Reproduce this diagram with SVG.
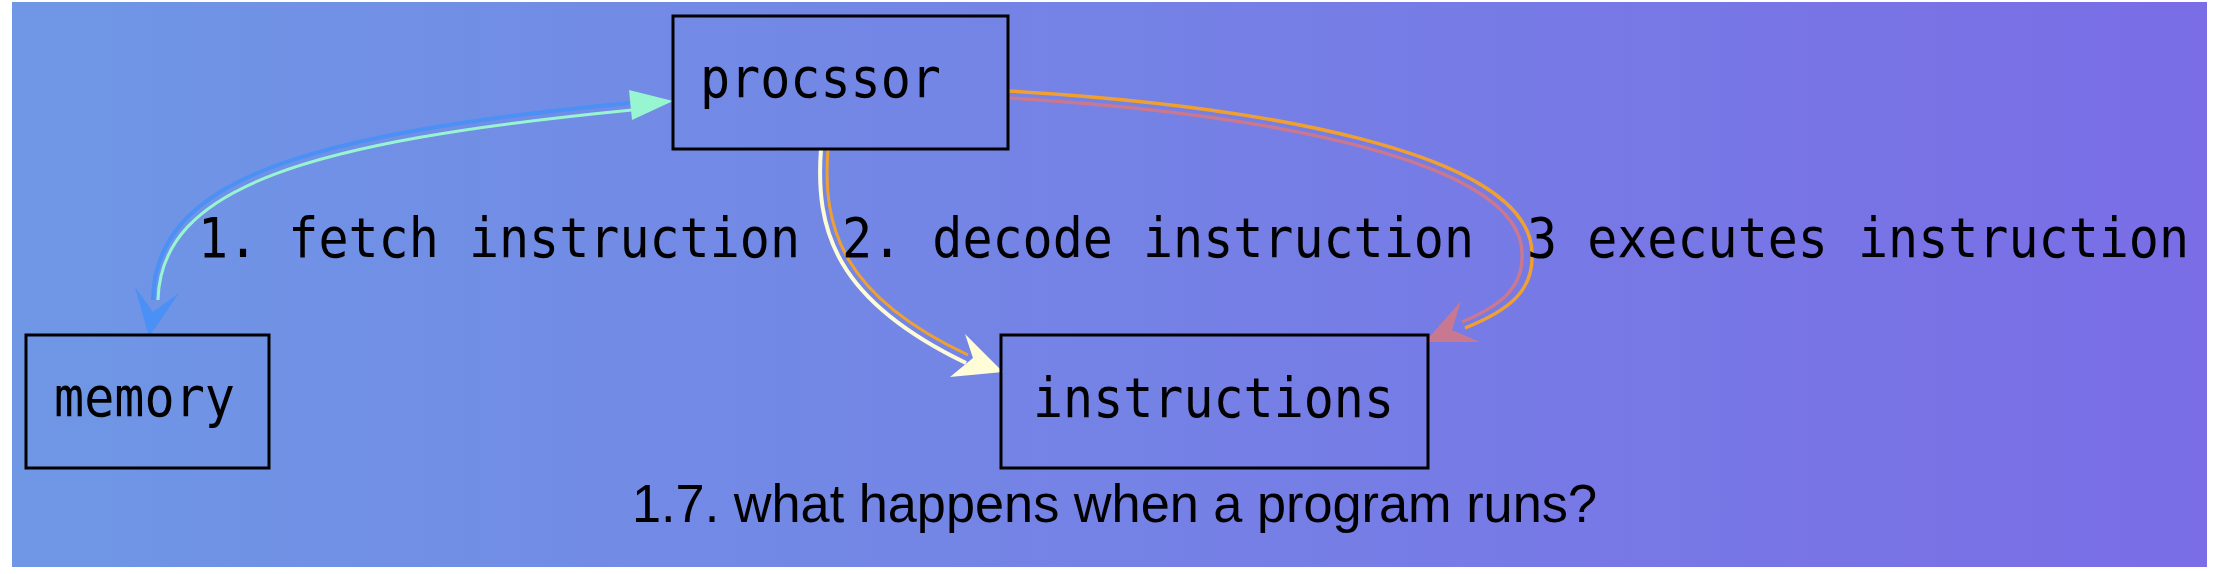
<svg xmlns="http://www.w3.org/2000/svg" width="2214" height="574" viewBox="0 0 2214 574">
<defs>
<linearGradient id="bg" x1="0" y1="0" x2="1" y2="0">
<stop offset="0" stop-color="#6f97e5"/>
<stop offset="1" stop-color="#7a6de6"/>
</linearGradient>
</defs>
<style>
.box{fill:none;stroke:#000;stroke-width:3}
.lbl{font-family:"DejaVu Sans Mono",monospace;font-size:55px;fill:#000}
.edge{fill:none}
</style>
<rect x="12" y="2" width="2195" height="565" fill="url(#bg)"/>
<g id="connectors">
<g id="e-fetch">
<path class="edge" d="M153,300 C155,180 300,135 629,103" stroke="#4a90f5" stroke-width="4"/>
<path class="edge" d="M158,300 C161,187 305,142 632,110" stroke="#98f5d2" stroke-width="3"/>
<polygon points="135,287 153,312 179,293 149,337" fill="#4a90f5"/>
<polygon points="629,90 673,101 632,120" fill="#98f5d2"/>
</g>
<g id="e-decode">
<path class="edge" d="M821,149 C815,230 835,300 966,363" stroke="#fffcd8" stroke-width="4"/>
<path class="edge" d="M828,149 C822,228 842,296 968,355" stroke="#f0a030" stroke-width="3"/>
<polygon points="965,334 973,358 950,377 1003,372" fill="#fffcd8"/>
</g>
<g id="e-execute">
<path class="edge" d="M1008,91 C1250,105 1530,150 1532,253 C1534,290 1510,310 1465,328" stroke="#f0a030" stroke-width="3.5"/>
<path class="edge" d="M1008,98 C1245,112 1520,156 1522,253 C1524,288 1500,306 1462,322" stroke="#c87890" stroke-width="3.5"/>
<polygon points="1461,301 1452,330 1480,342 1425,342" fill="#c87890"/>
</g>
</g>
<g id="node-processor">
<rect class="box" x="673" y="16" width="335" height="133"/>
<text class="lbl" x="700" y="97" textLength="241" lengthAdjust="spacingAndGlyphs">procssor</text>
</g>
<g id="node-memory">
<rect class="box" x="26" y="335" width="243" height="133"/>
<text class="lbl" x="54" y="416" textLength="181" lengthAdjust="spacingAndGlyphs">memory</text>
</g>
<g id="node-instructions">
<rect class="box" x="1001" y="335" width="427" height="133"/>
<text class="lbl" x="1033" y="417" textLength="361" lengthAdjust="spacingAndGlyphs">instructions</text>
</g>
<g id="labels">
<text class="lbl" x="198" y="257" textLength="602" lengthAdjust="spacingAndGlyphs">1. fetch instruction</text>
<text class="lbl" x="842" y="257" textLength="632" lengthAdjust="spacingAndGlyphs">2. decode instruction</text>
<text class="lbl" x="1527" y="257" textLength="662" lengthAdjust="spacingAndGlyphs">3 executes instruction</text>
</g>
<text x="632" y="522" font-family="'Liberation Sans',sans-serif" font-size="54" textLength="965" lengthAdjust="spacingAndGlyphs" fill="#000">1.7. what happens when a program runs?</text>
</svg>
